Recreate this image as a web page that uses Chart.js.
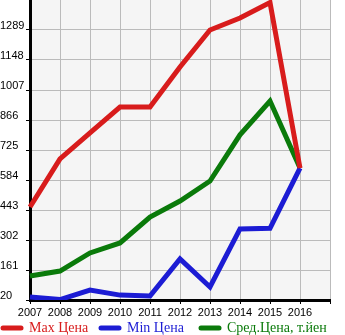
<!DOCTYPE html>
<html><head><meta charset="utf-8">
<script src="https://cdn.jsdelivr.net/npm/chart.js@4/dist/chart.umd.min.js"></script>
<style>html,body{margin:0;padding:0;background:#fff}#wrap{width:345px;height:335px;position:relative}</style>
</head><body><div id="wrap"><canvas id="c" width="345" height="335"></canvas></div>
<script>
const years = ['2007','2008','2009','2010','2011','2012','2013','2014','2015','2016',''];
const maxPrice = [457, 683, 805, 927, 927, 1115, 1289, 1345, 1418, 640];
const minPrice = [34, 22, 67, 43, 39, 213, 81, 354, 357, 640];
const avgPrice = [133, 156, 241, 288, 410, 485, 579, 796, 955, 640];
const yTicks = [20, 161, 302, 443, 584, 725, 866, 1007, 1148, 1289];
const seriesNames = ['Max Цена', 'Min Цена', 'Сред.Цена, т.йен'];
const colors = ['#d81c1c', '#1c1cd4', '#0a7a0a'];

const bgPlugin = {
  id: 'bg',
  beforeDraw(chart) {
    const a = chart.chartArea, ctx = chart.ctx;
    ctx.save(); ctx.fillStyle = '#f5f5f5';
    ctx.fillRect(a.left, a.top, a.right - a.left, a.bottom - a.top);
    ctx.restore();
  }
};

const legendPlugin = {
  id: 'customLegend',
  afterDraw(chart) {
    const ctx = chart.ctx;
    const starts = [0, 98, 198];
    const y = 328;
    ctx.save();
    ctx.font = '14px "Liberation Serif"';
    ctx.textBaseline = 'middle';
    chart.data.datasets.forEach((ds, i) => {
      const x = starts[i];
      ctx.strokeStyle = ds.borderColor;
      ctx.lineWidth = 5;
      ctx.lineCap = 'round';
      ctx.beginPath(); ctx.moveTo(x + 3, y); ctx.lineTo(x + 21, y); ctx.stroke();
      ctx.fillStyle = ds.borderColor;
      ctx.fillText(ds.label, x + 29, y);
    });
    ctx.restore();
  }
};

new Chart(document.getElementById('c'), {
  type: 'line',
  data: {
    labels: years,
    datasets: [maxPrice, minPrice, avgPrice].map((d, i) => ({
      label: seriesNames[i], data: d, borderColor: colors[i], backgroundColor: colors[i],
      borderWidth: 5, pointRadius: 0, tension: 0, fill: false
    }))
  },
  options: {
    responsive: false, animation: false,
    layout: { padding: { left: 0, top: 0, right: 0, bottom: 18 } },
    plugins: {
      tooltip: { enabled: false },
      legend: { display: false }
    },
    scales: {
      x: {
        offset: false,
        grid: { color: '#bbbbbb', lineWidth: 1, tickLength: 4, tickColor: '#000', drawTicks: true },
        border: { color: '#000', width: 3 },
        ticks: { color: '#000', font: { family: 'Liberation Sans', size: 11 }, padding: 2, maxRotation: 0, autoSkip: false },
        afterFit(s) { s.height = 17; s.paddingLeft = 0; s.paddingRight = 0; }
      },
      y: {
        min: 20, max: 1430,
        afterBuildTicks(s) { s.ticks = yTicks.map(v => ({ value: v })); },
        grid: { color: '#bbbbbb', lineWidth: 1, tickLength: 4, tickColor: '#000' },
        border: { color: '#000', width: 3 },
        ticks: { color: '#000', font: { family: 'Liberation Sans', size: 11 }, crossAlign: 'far', labelOffset: -4, padding: 2,
          callback: v => String(v) },
        afterFit(s) { s.width = 30; s.paddingTop = 0; s.paddingBottom = 0; }
      },
      yr: {
        position: 'right', display: true,
        grid: { display: false }, border: { display: false }, ticks: { display: false },
        afterFit(s) { s.width = 15; s.paddingTop = 0; s.paddingBottom = 0; }
      }
    }
  },
  plugins: [bgPlugin, legendPlugin]
});
</script></body></html>
